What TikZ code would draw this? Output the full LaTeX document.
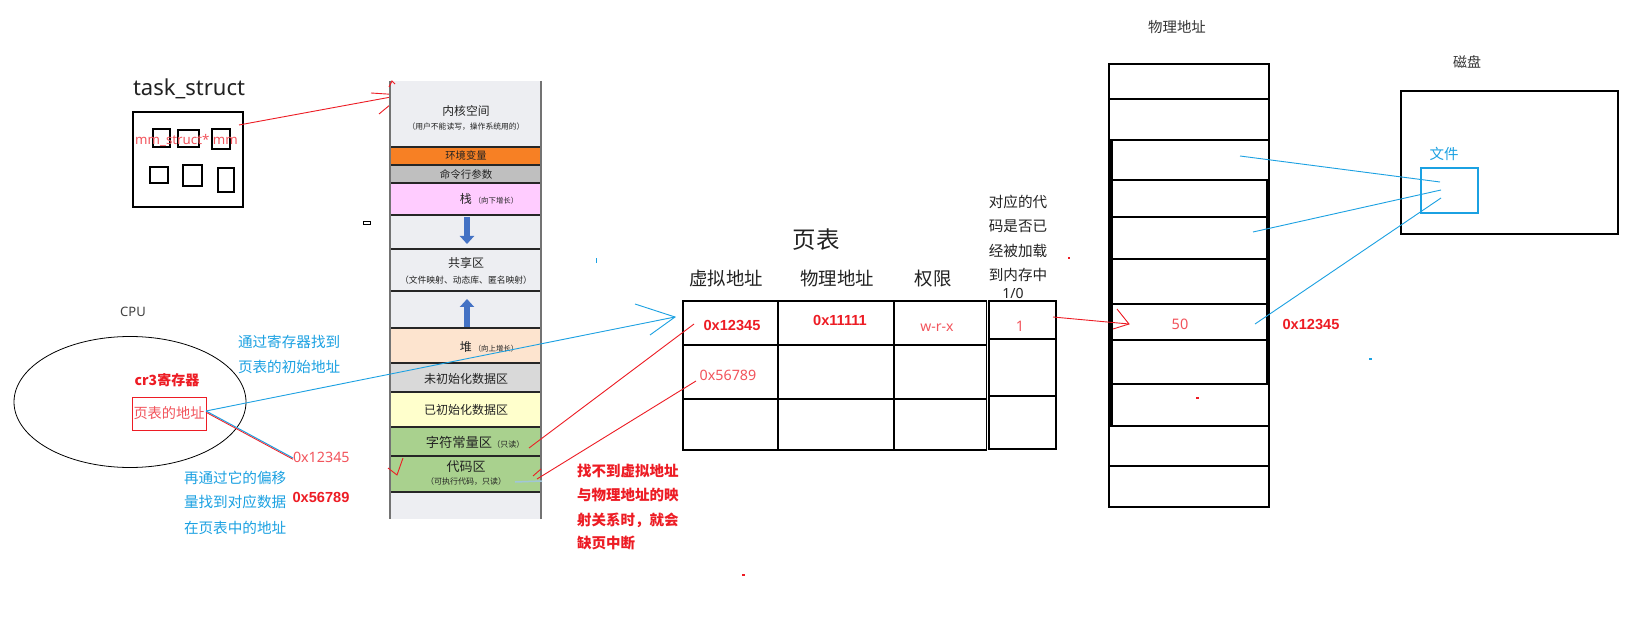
\documentclass[tikz,border=0pt]{standalone}
\usepackage{fontspec}
\setmainfont{Noto Sans CJK SC}
\newfontfamily\lat{Noto Sans}
\newfontfamily\latb{Liberation Sans}
\usetikzlibrary{shapes.geometric,arrows.meta}
\newcommand\myfs[1]{\fontsize{#1}{#1}\selectfont}
\definecolor{rd}{RGB}{237,28,36}
\definecolor{lrd}{RGB}{242,84,92}
\definecolor{bl}{RGB}{27,161,226}
\definecolor{memgray}{RGB}{237,238,242}
\definecolor{orng}{RGB}{247,128,36}
\definecolor{cmdgray}{RGB}{191,191,191}
\definecolor{pinkc}{RGB}{255,204,255}
\definecolor{peach}{RGB}{253,228,207}
\definecolor{uninit}{RGB}{217,217,217}
\definecolor{ylw}{RGB}{255,255,204}
\definecolor{grn}{RGB}{169,209,142}
\definecolor{arrblue}{RGB}{68,114,196}
\definecolor{ink}{RGB}{34,34,34}
\tikzset{
  redln/.style={draw=rd, line width=0.9pt},
  blueln/.style={draw=bl, line width=0.9pt},
  tbl/.style={line width=1.6pt},
  memtxt/.style={text=ink},
  bluetxt/.style={text=bl, anchor=west},
  redbold/.style={text=rd, font=\bfseries},
  lightred/.style={text=lrd},
  sep/.style={line width=1.6pt, draw=black!85},
  uparrow/.style={draw=arrblue, line width=6pt, -{Triangle[width=14pt,length=8pt]}},
}
\begin{document}
\begin{tikzpicture}[x=1pt,y=-1pt]
\tikzset{every node/.style={inner sep=0pt,outer sep=0pt}}
\useasboundingbox (0,0) rectangle (1650,620);
\fill[white] (0,0) rectangle (1650,620);

% ---------------- task_struct ----------------
\node[anchor=west, text=ink] (tstitle) at (133,89) {\lat\myfs{22}task\_struct};
\node[draw, line width=1.3pt, minimum width=110, minimum height=95] (tsbox) at (188,159.5) {};
\draw[line width=1.2pt] (153,129) rectangle (170,147);
\draw[line width=1.2pt] (178,130) rectangle (199,147);
\draw[line width=1.2pt] (212,129) rectangle (230,149);
\draw[line width=1.2pt] (150,167) rectangle (168,183);
\draw[line width=1.2pt] (183,165) rectangle (202,186);
\draw[line width=1.2pt] (218,168) rectangle (234,192);
\node[lightred] (mmtxt) at (186.5,140) {\lat\myfs{13.3}mm\_struct* mm};
\coordinate (tsA) at (239,125);
\coordinate (memTip) at (402,95);
\draw[redln] (tsA) -- (memTip);
\draw[redln] (371,93) -- (memTip) -- (379,114);

% ---------------- memory layout column ----------------
\fill[memgray] (390,81) rectangle (541,519);
\fill[orng] (390,147) rectangle (541,165);
\fill[cmdgray] (390,165) rectangle (541,183);
\fill[pinkc] (390,183) rectangle (541,215);
\fill[peach] (390,328) rectangle (541,363);
\fill[uninit] (390,363) rectangle (541,392);
\fill[ylw] (390,392) rectangle (541,427);
\fill[grn] (390,427) rectangle (541,492);
\foreach \y in {147,165,183,215,249,291,328,363,392,427,456,492}
  \draw[sep] (390,\y) -- (541,\y);
\draw[line width=1.8pt, draw=black!55] (390,81) -- (390,519);
\draw[line width=1.4pt, draw=black!55] (541,81) -- (541,519);

\node[memtxt] (kern) at (466,111) {\myfs{11.8}内核空间};
\node[memtxt] (kernsub) at (466,127) {\myfs{7.8}（用户不能读写，操作系统用的）};
\node[memtxt] (env) at (466,156) {\myfs{10.3}环境变量};
\node[memtxt] (cmd) at (466,174) {\myfs{10.5}命令行参数};
\node[memtxt] (stack) at (489,199) {\myfs{12}栈\,{\myfs{7.4}（向下增长）}};
\draw[uparrow] (467,217) -- (467,244);
\node[memtxt] (share) at (466,263) {\myfs{12}共享区};
\node[memtxt] (sharesub) at (466,280) {\myfs{8.8}（文件映射、动态库、匿名映射）};
\draw[uparrow] (467,327) -- (467,299);
\node[memtxt] (heap) at (489,347) {\myfs{12}堆\,{\myfs{7.4}（向上增长）}};
\node[memtxt] (bss) at (466,379) {\myfs{12}未初始化数据区};
\node[memtxt] (data) at (466,410) {\myfs{12}已初始化数据区};
\node[memtxt] (rodata) at (475,442) {\myfs{13.3}字符常量区{\myfs{8}（只读）}};
\node[memtxt] (code) at (466,467) {\myfs{13}代码区};
\node[memtxt] (codesub) at (466,482) {\myfs{8}（可执行代码，只读）};
\draw[line width=0.8pt] (363,221) rectangle (370,224);
\draw[redln] (389,87) -- (392,81) -- (395,84);
\draw[redln] (388,468) -- (397,475) -- (403,458);
\draw[draw=black!30!bl!40, line width=1.5pt] (515,482) -- (542,481);

% ---------------- CPU ----------------
\node[text=black!75] (cpu) at (133,312) {\lat\myfs{13}CPU};
\node[draw, ellipse, line width=0.8pt, minimum width=232, minimum height=131] (cpuell) at (130,402) {};
\node[redbold] (cr3) at (167,380) {\myfs{14}cr3寄存器};
\node[draw=rd, line width=1pt, minimum width=74, minimum height=33, text=lrd] (ptaddr) at (169,413.5) {\myfs{14.2}页表的地址};
\node[bluetxt] (b1) at (238,342) {\myfs{14.6}通过寄存器找到};
\node[bluetxt] (b2) at (238,367) {\myfs{14.6}页表的初始地址};
\node[bluetxt] (b3) at (184,478) {\myfs{14.6}再通过它的偏移};
\node[bluetxt] (b4) at (184,502) {\myfs{14.6}量找到对应数据};
\node[bluetxt] (b5) at (184,528) {\myfs{14.6}在页表中的地址};
\node[lightred, anchor=west] (off1) at (293,457) {\lat\myfs{14.3}0x12345};
\node[redbold] (off2) at (321,497) {\latb\myfs{14.6}0x56789};
\coordinate (ptA) at (206,411);
\draw[draw=bl, line width=1pt] (ptA) -- ([yshift=-1]off1.west);
\draw[draw=rd, line width=0.8pt] ([yshift=-1.3]ptA) -- ([yshift=-2.3]off1.west);

% ---------------- page table ----------------
\node[text=ink] (pttitle) at (816,240) {\myfs{23.5}页表};
\node[text=ink] (hva) at (726,279) {\myfs{18.4}虚拟地址};
\node[text=ink] (hpa) at (837,279) {\myfs{18.4}物理地址};
\node[text=ink] (hperm) at (933,279) {\myfs{18.4}权限};
\draw[tbl] (683,301) rectangle (986.5,450);
\draw[tbl] (778,301) -- (778,450);
\draw[tbl] (894,301) -- (894,450);
\draw[tbl] (683,345) -- (986.5,345);
\draw[tbl] (683,399) -- (986.5,399);
\draw[tbl] (989,301) rectangle (1056,449);
\draw[tbl] (989,339) -- (1056,339);
\draw[tbl] (989,396) -- (1056,396);
\node[redbold] (va1) at (732,325) {\latb\myfs{14.6}0x12345};
\node[redbold] (pa1) at (840,320) {\latb\myfs{14.6}0x11111};
\node[lightred] (perm1) at (937,328) {\lat\myfs{14}w-r-x};
\node[lightred] (va2) at (728,375) {\lat\myfs{14.3}0x56789};
\node[lightred] (st1) at (1020,326) {\lat\myfs{14.5}1};
\node[text=ink] (q1) at (1018,202) {\myfs{14.6}对应的代};
\node[text=ink] (q2) at (1018,226) {\myfs{14.6}码是否已};
\node[text=ink] (q3) at (1018,251) {\myfs{14.6}经被加载};
\node[text=ink] (q4) at (1018,275) {\myfs{14.6}到内存中};
\node[text=ink] (q5) at (1013,293) {\lat\myfs{14}1/0};

\coordinate (ptTip) at (675,317);
\draw[blueln] (ptA) -- (ptTip);
\draw[blueln] (635,304) -- (ptTip) -- (650,335);

\coordinate (va1w) at (694,324);
\coordinate (rodTip) at (529,448);
\draw[redln] (va1w) -- (rodTip);
\coordinate (va2w) at (696,381);
\coordinate (codeTip) at (537,479);
\draw[redln] (va2w) -- (codeTip);
\draw[redln] (533,476) -- (541,469);

\node[redbold, anchor=west] (m1) at (577,471) {\myfs{14.5}找不到虚拟地址};
\node[redbold, anchor=west] (m2) at (577,495) {\myfs{14.5}与物理地址的映};
\node[redbold, anchor=west] (m3) at (577,520) {\myfs{14.5}射关系时，就会};
\node[redbold, anchor=west] (m4) at (577,543) {\myfs{14.5}缺页中断};

% ---------------- physical memory ----------------
\node[text=black!80] (phystitle) at (1177,27) {\myfs{14.4}物理地址};
\draw[line width=1.4pt] (1109,64) rectangle (1269,507);
\foreach \y in {99,140,180,217,259,304,340,384,426,466}
  \draw[line width=1.4pt] (1109,\y) -- (1269,\y);
\draw[line width=3pt] (1111.5,140) -- (1111.5,426);
\draw[line width=3pt] (1267,180) -- (1267,384);
\node[lightred] (p50) at (1180,324) {\lat\myfs{14.5}50};
\node[redbold] (paddr) at (1311,324) {\latb\myfs{14.6}0x12345};

\coordinate (stA) at (1053,317);
\coordinate (physTip) at (1129,324);
\draw[redln] (stA) -- (physTip);
\draw[redln] (1117,309) -- (physTip) -- (1113,329);

% ---------------- disk ----------------
\node[text=black!80] (disktitle) at (1467,62) {\myfs{14}磁盘};
\node[draw, line width=1.3pt, minimum width=217, minimum height=143] (disk) at (1509.5,162.5) {};
\node[text=bl] (filetxt) at (1444,154) {\myfs{14.5}文件};
\node[draw=bl, line width=1.2pt, minimum width=57, minimum height=45] (file) at (1449.5,190.5) {};
\coordinate (r1) at (1240,156);
\coordinate (r2) at (1253,232);
\coordinate (r3) at (1255,324);
\coordinate (f1) at (1440,182);
\coordinate (f2) at (1441,190);
\coordinate (f3) at (1441,198);
\draw[blueln] (r1) -- (f1);
\draw[blueln] (r2) -- (f2);
\draw[blueln] (r3) -- (f3);

% stray marks
\fill[rd] (742,574) rectangle (745,575.5);
\fill[rd] (1068,257) rectangle (1069.5,259);
\fill[rd] (1196,397) rectangle (1198.5,398.5);
\fill[bl] (1369,358.5) rectangle (1372,360);
\fill[bl] (595.5,258) rectangle (596.8,263);
\end{tikzpicture}
\end{document}
